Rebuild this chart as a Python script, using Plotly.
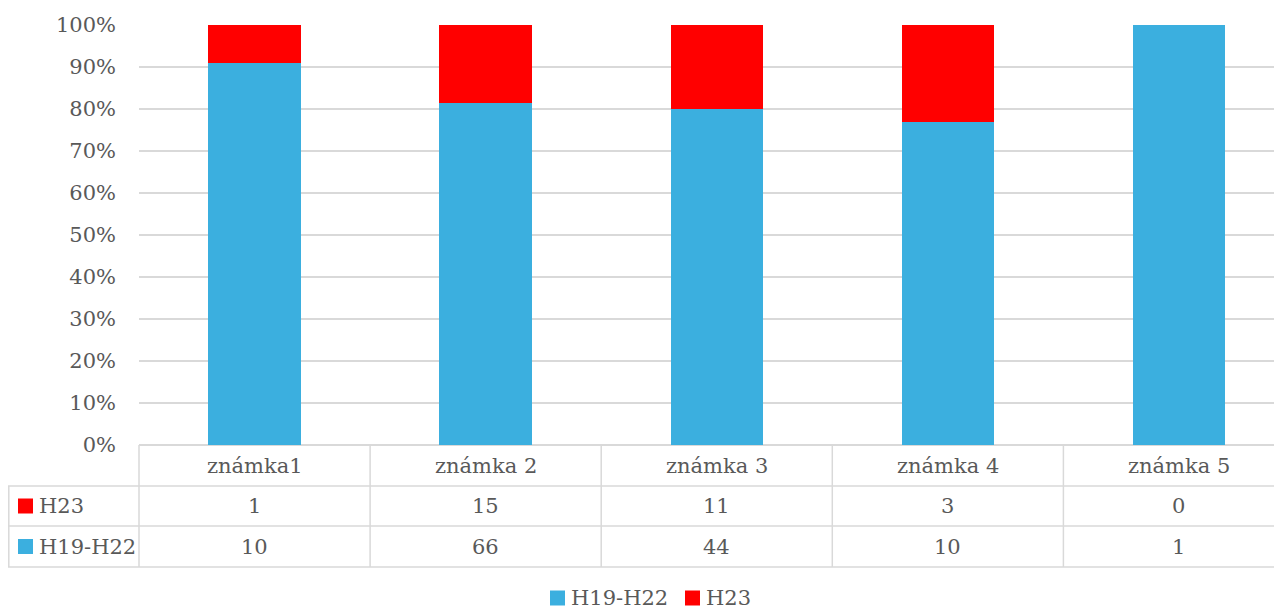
import plotly.graph_objects as go

categories = ['známka1', 'známka 2', 'známka 3', 'známka 4', 'známka 5']
h19_h22 = [10, 66, 44, 10, 1]
h23 = [1, 15, 11, 3, 0]
series_names = ['H19-H22', 'H23']
y_ticks = [0, 10, 20, 30, 40, 50, 60, 70, 80, 90, 100]

blue = '#3BAFDF'
red = '#FF0000'
grid = '#D9D9D9'
txt = '#595959'
font = 'DejaVu Serif'

# the page body has an 8px margin, so the figure starts at (8, 8)
O = 8
W, H = 1282 - O, 610 - O
L, R, T, B = 139 - O, 0, 25 - O, 165
pw = W - L - R
ph = H - T - B
col_w = 231.1


def px(x):
    return (x - O - L) / pw


def py(y):
    return (H + O - B - y) / ph


x = list(range(len(categories)))

fig = go.Figure()
fig.add_trace(go.Bar(x=x, y=h19_h22, name=series_names[0], marker_color=blue,
                     marker_line_width=0, width=0.4))
fig.add_trace(go.Bar(x=x, y=h23, name=series_names[1], marker_color=red,
                     marker_line_width=0, width=0.4))

shapes = []
ann = []
line = dict(color=grid, width=1.5)

# table rows: header, H23, H19-H22
row_top = [445, 486, 526]
row_bot = [486, 526, 567]

for y in [486, 526, 567]:
    shapes.append(dict(type='line', xref='paper', yref='paper', x0=px(8), x1=1,
                       y0=py(y), y1=py(y), line=line, layer='above'))
shapes.append(dict(type='line', xref='paper', yref='paper', x0=px(8.8), x1=px(8.8),
                   y0=py(486), y1=py(567), line=line))
shapes.append(dict(type='line', xref='paper', yref='paper', x0=0, x1=0,
                   y0=py(445), y1=py(567), line=line))
for i in x[:-1]:
    shapes.append(dict(type='line', xref='x', yref='paper', x0=i + 0.5, x1=i + 0.5,
                       y0=py(445), y1=py(567), line=line))


def cell_y(r):
    return py((row_top[r] + row_bot[r]) / 2)


for i, c in enumerate(categories):
    ann.append(dict(x=i, y=cell_y(0), xref='x', yref='paper', text=c))
    ann.append(dict(x=i, y=cell_y(1), xref='x', yref='paper', text=str(h23[i])))
    ann.append(dict(x=i, y=cell_y(2), xref='x', yref='paper', text=str(h19_h22[i])))

# row labels with colour keys
for r, name, col in [(1, series_names[1], red), (2, series_names[0], blue)]:
    cy = (row_top[r] + row_bot[r]) / 2
    shapes.append(dict(type='rect', xref='paper', yref='paper', x0=px(18), x1=px(33),
                       y0=py(cy - 7.5), y1=py(cy + 7.5), fillcolor=col, line_width=0))
    ann.append(dict(x=px(37), y=py(cy), xref='paper', yref='paper', text=name,
                    xanchor='left'))

# legend at the bottom
ly = 598
for x0, name, col in [(550, series_names[0], blue), (685, series_names[1], red)]:
    shapes.append(dict(type='rect', xref='paper', yref='paper', x0=px(x0), x1=px(x0 + 15),
                       y0=py(ly - 7.5), y1=py(ly + 7.5), fillcolor=col, line_width=0))
    ann.append(dict(x=px(x0 + 19), y=py(ly), xref='paper', yref='paper', text=name,
                    xanchor='left'))

for a in ann:
    a['showarrow'] = False
    a['yanchor'] = 'middle'

fig.update_layout(
    barmode='stack', barnorm='percent',
    width=W, height=H,
    margin=dict(l=L, r=R, t=T, b=B),
    paper_bgcolor='white', plot_bgcolor='white',
    font=dict(family=font, size=21, color=txt),
    showlegend=False,
    shapes=shapes, annotations=ann,
    xaxis=dict(range=[-0.5, (1282 - 139) / col_w - 0.5], showticklabels=False, showgrid=False,
               zeroline=False, showline=False, fixedrange=True),
    yaxis=dict(range=[0, 100], tickvals=y_ticks, ticktext=[f'{v}%' for v in y_ticks],
               showgrid=True, gridcolor=grid, gridwidth=1.5, zeroline=True,
               zerolinecolor=grid, zerolinewidth=1.5, ticklabelstandoff=22,
               tickfont=dict(size=21, color=txt)),
)

fig.write_html("out.html")
